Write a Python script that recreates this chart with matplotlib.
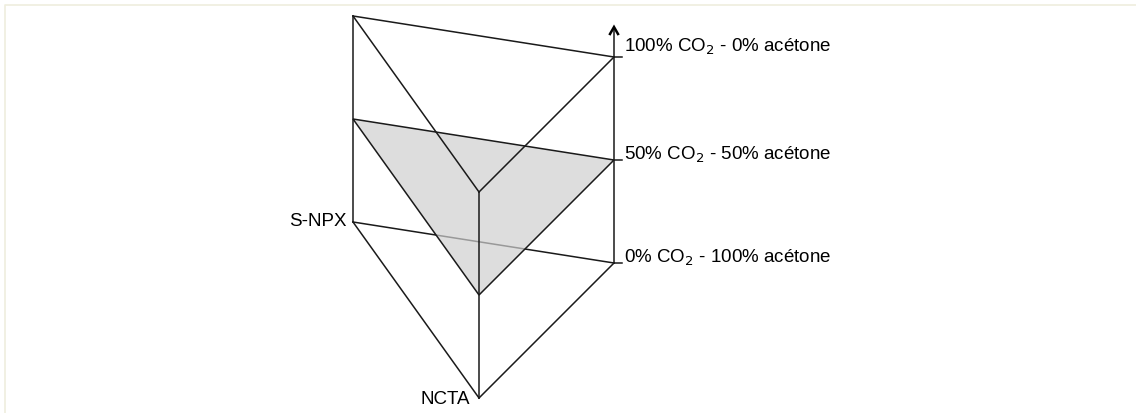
import matplotlib.pyplot as plt
from matplotlib.patches import Polygon

plt.rcParams['font.family'] = ['Liberation Sans', 'DejaVu Sans']

# composition levels on the vertical axis (% CO2)
levels = [0, 50, 100]
level_labels = ['0% CO$_2$ - 100% acétone',
                '50% CO$_2$ - 50% acétone',
                '100% CO$_2$ - 0% acétone']
highlight = 50  # shaded working plane

# corner names of the base triangle
corners = ['S-NPX', 'NCTA', 'CO2']

# oblique projection of the prism (pixel space)
corner_x = {'S-NPX': 353, 'NCTA': 479, 'CO2': 614}
corner_y0 = {'S-NPX': 223, 'NCTA': 399, 'CO2': 264}
height = 206


def proj(corner, level):
    return corner_x[corner], corner_y0[corner] - level / 100 * height


def tri(level):
    return [proj(c, level) for c in corners]


fig = plt.figure(figsize=(11.36, 4.14), dpi=100)
ax = fig.add_axes([0, 0, 1, 1])
ax.set_xlim(0, 1136)
ax.set_ylim(414, 0)
ax.axis('off')

# faint frame of the original figure
ax.plot([4.5, 4.5, 1136], [414, 5.5, 5.5], color='#efeede', lw=1.2)

ink = '#1a1a1a'
lw = 1.1
fs = 13.5

# back edge of bottom triangle (seen through the shaded plane)
p0, p1 = proj('S-NPX', 0), proj('CO2', 0)
ax.plot([p0[0], p1[0]], [p0[1], p1[1]], color=ink, lw=lw, zorder=1)

# shaded plane
ax.add_patch(Polygon(tri(highlight), closed=True, facecolor='#cfcfcf',
                     edgecolor='none', alpha=0.7, zorder=2))
ax.add_patch(Polygon(tri(highlight), closed=True, fill=False,
                     edgecolor=ink, lw=lw, zorder=3))

# other triangle edges
for lev in (levels[0], levels[-1]):
    t = tri(lev)
    for a, b in [(0, 1), (1, 2), (2, 0)]:
        if lev == levels[0] and (a, b) == (2, 0):
            continue
        ax.plot([t[a][0], t[b][0]], [t[a][1], t[b][1]], color=ink,
                lw=lw, zorder=3)

# vertical edges
for c in ['S-NPX', 'NCTA']:
    (xa, ya), (xb, yb) = proj(c, levels[0]), proj(c, levels[-1])
    ax.plot([xa, xb], [ya, yb], color=ink, lw=lw, zorder=3)

# composition axis with arrow
xa, ya = proj('CO2', levels[0])
ax.plot([xa, xa], [ya, 29], color=ink, lw=lw, zorder=3)
ax.plot([xa - 4, xa, xa + 4], [35, 28, 35], color='black', lw=1.8,
        solid_joinstyle='miter', zorder=4)

label_dy = [-1, -1, -6]
for lev, lab, dy in zip(levels, level_labels, label_dy):
    x, y = proj('CO2', lev)
    ax.plot([x, x + 8], [y, y], color=ink, lw=lw)
    ax.text(x + 10, y + dy, lab, fontsize=fs, ha='left', va='baseline')

# corner labels
x, y = proj('S-NPX', 0)
ax.text(x - 6, y - 1, 'S-NPX', fontsize=fs, ha='right', va='center')
x, y = proj('NCTA', 0)
ax.text(x - 9, y + 1, 'NCTA', fontsize=fs, ha='right', va='center')

fig.savefig('out.png', dpi=100)
